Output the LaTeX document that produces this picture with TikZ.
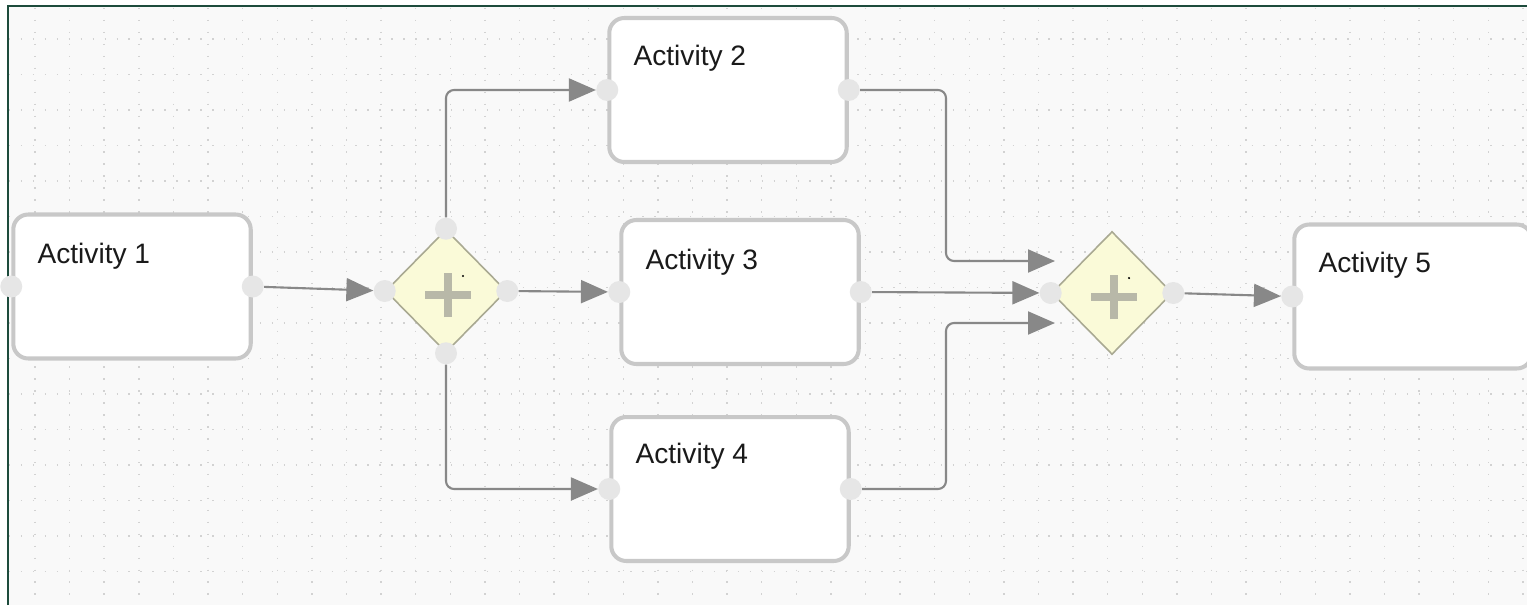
\documentclass[tikz,border=0pt]{standalone}
\usepackage{fontspec}
\setmainfont{Liberation Sans}
\usetikzlibrary{shapes.geometric,arrows.meta,positioning}
\definecolor{boxline}{HTML}{C8C8C8}
\definecolor{textgray}{HTML}{1A1A1A}
\definecolor{gateline}{HTML}{A9A992}
\definecolor{gatefill}{HTML}{FAFAD8}
\definecolor{plusgray}{HTML}{B8B8A8}
\definecolor{portgray}{HTML}{E6E6E6}
\definecolor{flowgray}{HTML}{888888}
\definecolor{dotgray}{HTML}{D2D2D2}
\definecolor{canvas}{HTML}{F9F9F9}
\definecolor{frame}{HTML}{1D4B3C}
\begin{document}
\begin{tikzpicture}[x=0.02cm,y=-0.02cm,
    activity/.style={draw=boxline, line width=2.3pt, fill=white, rounded corners=0.3cm,
        minimum width=4.75cm, minimum height=2.88cm, inner sep=0pt},
    acttext/.style={anchor=west, inner sep=0pt, text=textgray, font=\fontsize{16}{19}\selectfont},
    gateway/.style={diamond, draw=gateline, line width=0.9pt, fill=gatefill,
        minimum width=2.42cm, minimum height=2.46cm, inner sep=0pt,
        path picture={
            \draw[plusgray, line width=4.8pt] ([xshift=0.04cm,yshift=-0.08cm]path picture bounding box.center)
                +(-0.46cm,0cm) -- +(0.46cm,0cm) +(0cm,-0.44cm) -- +(0cm,0.44cm);
            \fill[black] ([xshift=0.34cm,yshift=0.3cm]path picture bounding box.center) circle (0.7pt);
        }},
    port/.style={circle, fill=portgray, minimum size=0.44cm, inner sep=0pt},
    flow/.style={draw=flowgray, line width=1.2pt, rounded corners=0.16cm,
        -{Triangle[length=0.54cm,width=0.46cm]}},
    griddot/.style={draw=dotgray, line width=0.8pt, dash pattern=on 0.8pt off 6pt}]

    % canvas
    \fill[white] (0,0) rectangle (1527,605);
    \useasboundingbox (0,0) rectangle (1527,605);
    \fill[canvas] (8,6) rectangle (1527,605);
    \foreach \i in {0,...,43}
        \draw[griddot] ({35+34.6*\i},8) -- ({35+34.6*\i},605);
    \foreach \j in {0,...,15}
        \draw[griddot] (9,{39+35.5*\j}) -- (1527,{39+35.5*\j});
    \draw[frame, line width=1.3pt] (8,605) -- (8,6) -- (1527,6);

    % activities
    \node[activity] (AA) at (132,286.5) {};
    \node[activity] (AB) at (728,90) {};
    \node[activity] (AC) at (740,292) {};
    \node[activity] (AD) at (730,489) {};
    \node[activity] (AE) at (1413,296.5) {};

    \node[acttext] (TA) at ([xshift=0.52cm,yshift=-0.88cm]AA.north west) {Activity 1};
    \node[acttext] (TB) at ([xshift=0.52cm,yshift=-0.84cm]AB.north west) {Activity 2};
    \node[acttext] (TC) at ([xshift=0.52cm,yshift=-0.88cm]AC.north west) {Activity 3};
    \node[acttext] (TD) at ([xshift=0.52cm,yshift=-0.82cm]AD.north west) {Activity 4};
    \node[acttext] (TE) at ([xshift=0.52cm,yshift=-0.86cm]AE.north west) {Activity 5};

    % gateways
    \node[gateway] (GA) at (446,291) {};
    \node[gateway] (GB) at (1112,293) {};

    % ports
    \node[port] (AAw) at (AA.west) {};
    \node[port] (AAe) at (AA.east) {};
    \node[port] (GAw) at (GA.west) {};
    \node[port] (GAe) at (GA.east) {};
    \node[port] (GAn) at (GA.north) {};
    \node[port] (GAs) at (GA.south) {};
    \node[port] (ABw) at (AB.west) {};
    \node[port] (ABe) at (AB.east) {};
    \node[port] (ACw) at (AC.west) {};
    \node[port] (ACe) at (AC.east) {};
    \node[port] (ADw) at (AD.west) {};
    \node[port] (ADe) at (AD.east) {};
    \node[port] (GBw) at (GB.west) {};
    \node[port] (GBe) at (GB.east) {};
    \node[port] (AEw) at (AE.west) {};

    \coordinate (JA) at (946,261);
    \coordinate (JB) at (946,323);
    \coordinate (GBa) at (1055,261);
    \coordinate (GBb) at (1055,323);

    % flows
    \draw[flow] (AAe) -- (GAw);
    \draw[flow] (GAe) -- (ACw);
    \draw[flow] (GAn) |- (ABw);
    \draw[flow] (GAs) |- (ADw);
    \draw[flow] (ABe) -| (JA) -- (GBa);
    \draw[flow] (ACe) -- (GBw);
    \draw[flow] (ADe) -| (JB) -- (GBb);
    \draw[flow] (GBe) -- (AEw);
\end{tikzpicture}
\end{document}
